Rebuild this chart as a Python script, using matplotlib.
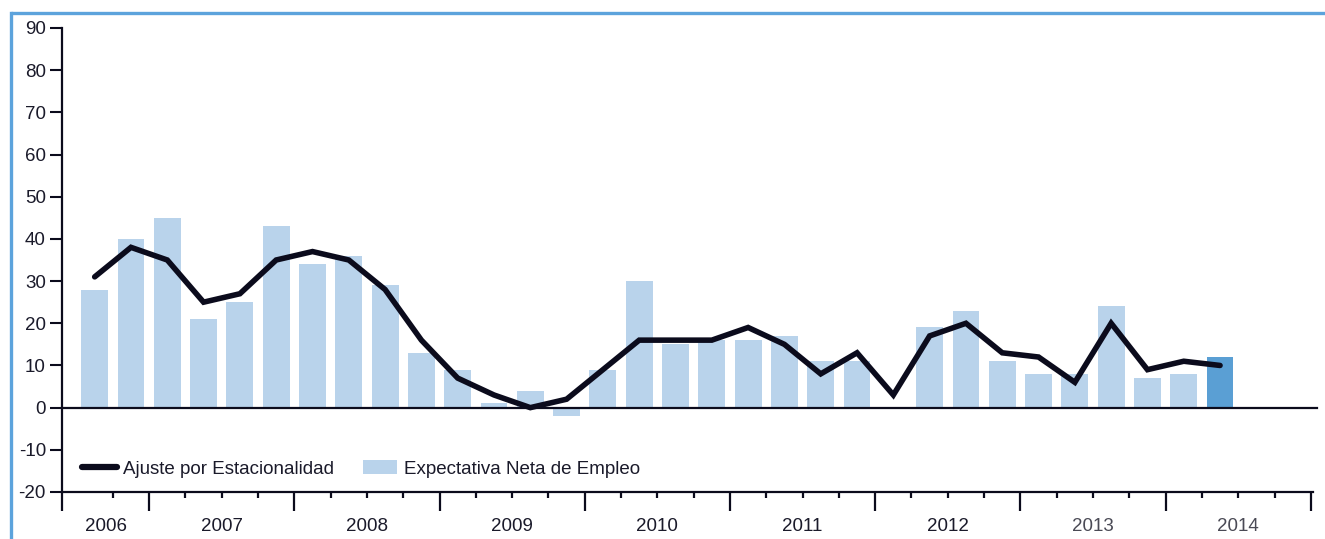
import numpy as np
import matplotlib
matplotlib.use("Agg")
import matplotlib.pyplot as plt
from matplotlib.lines import Line2D
from matplotlib.patches import Patch
from matplotlib.transforms import blended_transform_factory

plt.rcParams['font.family'] = ['Liberation Sans', 'DejaVu Sans']

# ---- data ----
quarters = ['2006-T3', '2006-T4',
            '2007-T1', '2007-T2', '2007-T3', '2007-T4',
            '2008-T1', '2008-T2', '2008-T3', '2008-T4',
            '2009-T1', '2009-T2', '2009-T3', '2009-T4',
            '2010-T1', '2010-T2', '2010-T3', '2010-T4',
            '2011-T1', '2011-T2', '2011-T3', '2011-T4',
            '2012-T1', '2012-T2', '2012-T3', '2012-T4',
            '2013-T1', '2013-T2', '2013-T3', '2013-T4',
            '2014-T1', '2014-T2']
expectativa = [28, 40, 45, 21, 25, 43, 34, 36, 29, 13, 9, 1, 4, -2, 9, 30,
               15, 16, 16, 17, 11, 11, np.nan, 19, 23, 11, 8, 8, 24, 7, 8, 12]
ajuste = [31, 38, 35, 25, 27, 35, 37, 35, 28, 16, 7, 3, 0, 2, 9, 16,
          16, 16, 19, 15, 8, 13, 3, 17, 20, 13, 12, 6, 20, 9, 11, 10]
years = ['2006', '2007', '2008', '2009', '2010', '2011', '2012', '2013', '2014']
year_colors = ['#1a1a2a'] * 7 + ['#4a4a55', '#4a4a55']
yticks = [-20, -10, 0, 10, 20, 30, 40, 50, 60, 70, 80, 90]
label_line = 'Ajuste por Estacionalidad'
label_bar = 'Expectativa Neta de Empleo'

# ---- style ----
LIGHT = '#b9d3eb'
DARK = '#5a9fd4'
INK = '#0b0b1c'
FRAME = '#5ca3dc'
FS = 13.5

W, H = 1325, 539
fig = plt.figure(figsize=(W / 100, H / 100), dpi=100)
ax = fig.add_axes([62 / W, 1 - 492 / H, (1313 - 62) / W, (492 - 28) / H])

x = np.arange(len(quarters))
colors = [LIGHT] * (len(quarters) - 1) + [DARK]
ax.bar(x, expectativa, width=0.74, color=colors, zorder=2)
ax.axhline(0, color=INK, lw=1.6, zorder=3, clip_on=False, xmax=1.003)
ax.plot(x, ajuste, color=INK, lw=4.0, solid_joinstyle='miter',
        solid_capstyle='round', zorder=4)

xmin, xmax = -0.9, 33.56
ax.set_xlim(xmin, xmax)
ax.set_ylim(-20, 90)

for s in ['top', 'right']:
    ax.spines[s].set_visible(False)
for s in ['left', 'bottom']:
    ax.spines[s].set_color(INK)
    ax.spines[s].set_linewidth(1.6)

ax.set_yticks(yticks)
ax.set_yticklabels([str(v) for v in yticks])
ax.tick_params(axis='y', direction='out', length=8.6, width=1.5, color=INK,
               pad=3.0, labelsize=FS, labelcolor='#1a1a2a')

# year boundaries from quarter labels
starts = [i - 0.5 for i, q in enumerate(quarters) if q.endswith('T1')]
bounds = [xmin] + starts + [len(quarters) + 1.5]
minor = [i - 0.5 for i, q in enumerate(quarters) if not q.endswith('T1') and i > 0]
last = len(quarters) - 0.5
minor += [last, last + 1]
ax.set_xticks(bounds)
ax.set_xticklabels([])
ax.set_xticks(minor, minor=True)
ax.tick_params(axis='x', which='major', direction='out', length=14, width=1.6, color=INK)
ax.tick_params(axis='x', which='minor', direction='out', length=4, width=1.6, color=INK)

trans = blended_transform_factory(ax.transData, ax.transAxes)
for i, yr in enumerate(years):
    cx = (bounds[i] + bounds[i + 1]) / 2
    ax.text(cx, -0.075, yr, transform=trans, ha='center', va='center',
            fontsize=FS, color=year_colors[i])

handles = [Line2D([0], [0], color=INK, lw=4.5, solid_capstyle='round'),
           Patch(facecolor=LIGHT, edgecolor='none')]
leg = ax.legend(handles, [label_line, label_bar], loc='center left',
                bbox_to_anchor=(0.016, 0.0496), frameon=False, ncol=2,
                fontsize=FS, handlelength=1.85, handletextpad=0.36,
                columnspacing=1.5, borderpad=0, borderaxespad=0)
for t in leg.get_texts():
    t.set_color('#1a1a2a')

# outer frame lines (top and left)
fig.add_artist(Line2D([11 / W, 1.0], [1 - 13 / H, 1 - 13 / H], color=FRAME, lw=2.4,
                      transform=fig.transFigure, solid_capstyle='butt'))
fig.add_artist(Line2D([11 / W, 11 / W], [0, 1 - 13 / H], color=FRAME, lw=2.4,
                      transform=fig.transFigure, solid_capstyle='projecting'))

fig.savefig('out.png', dpi=100)
